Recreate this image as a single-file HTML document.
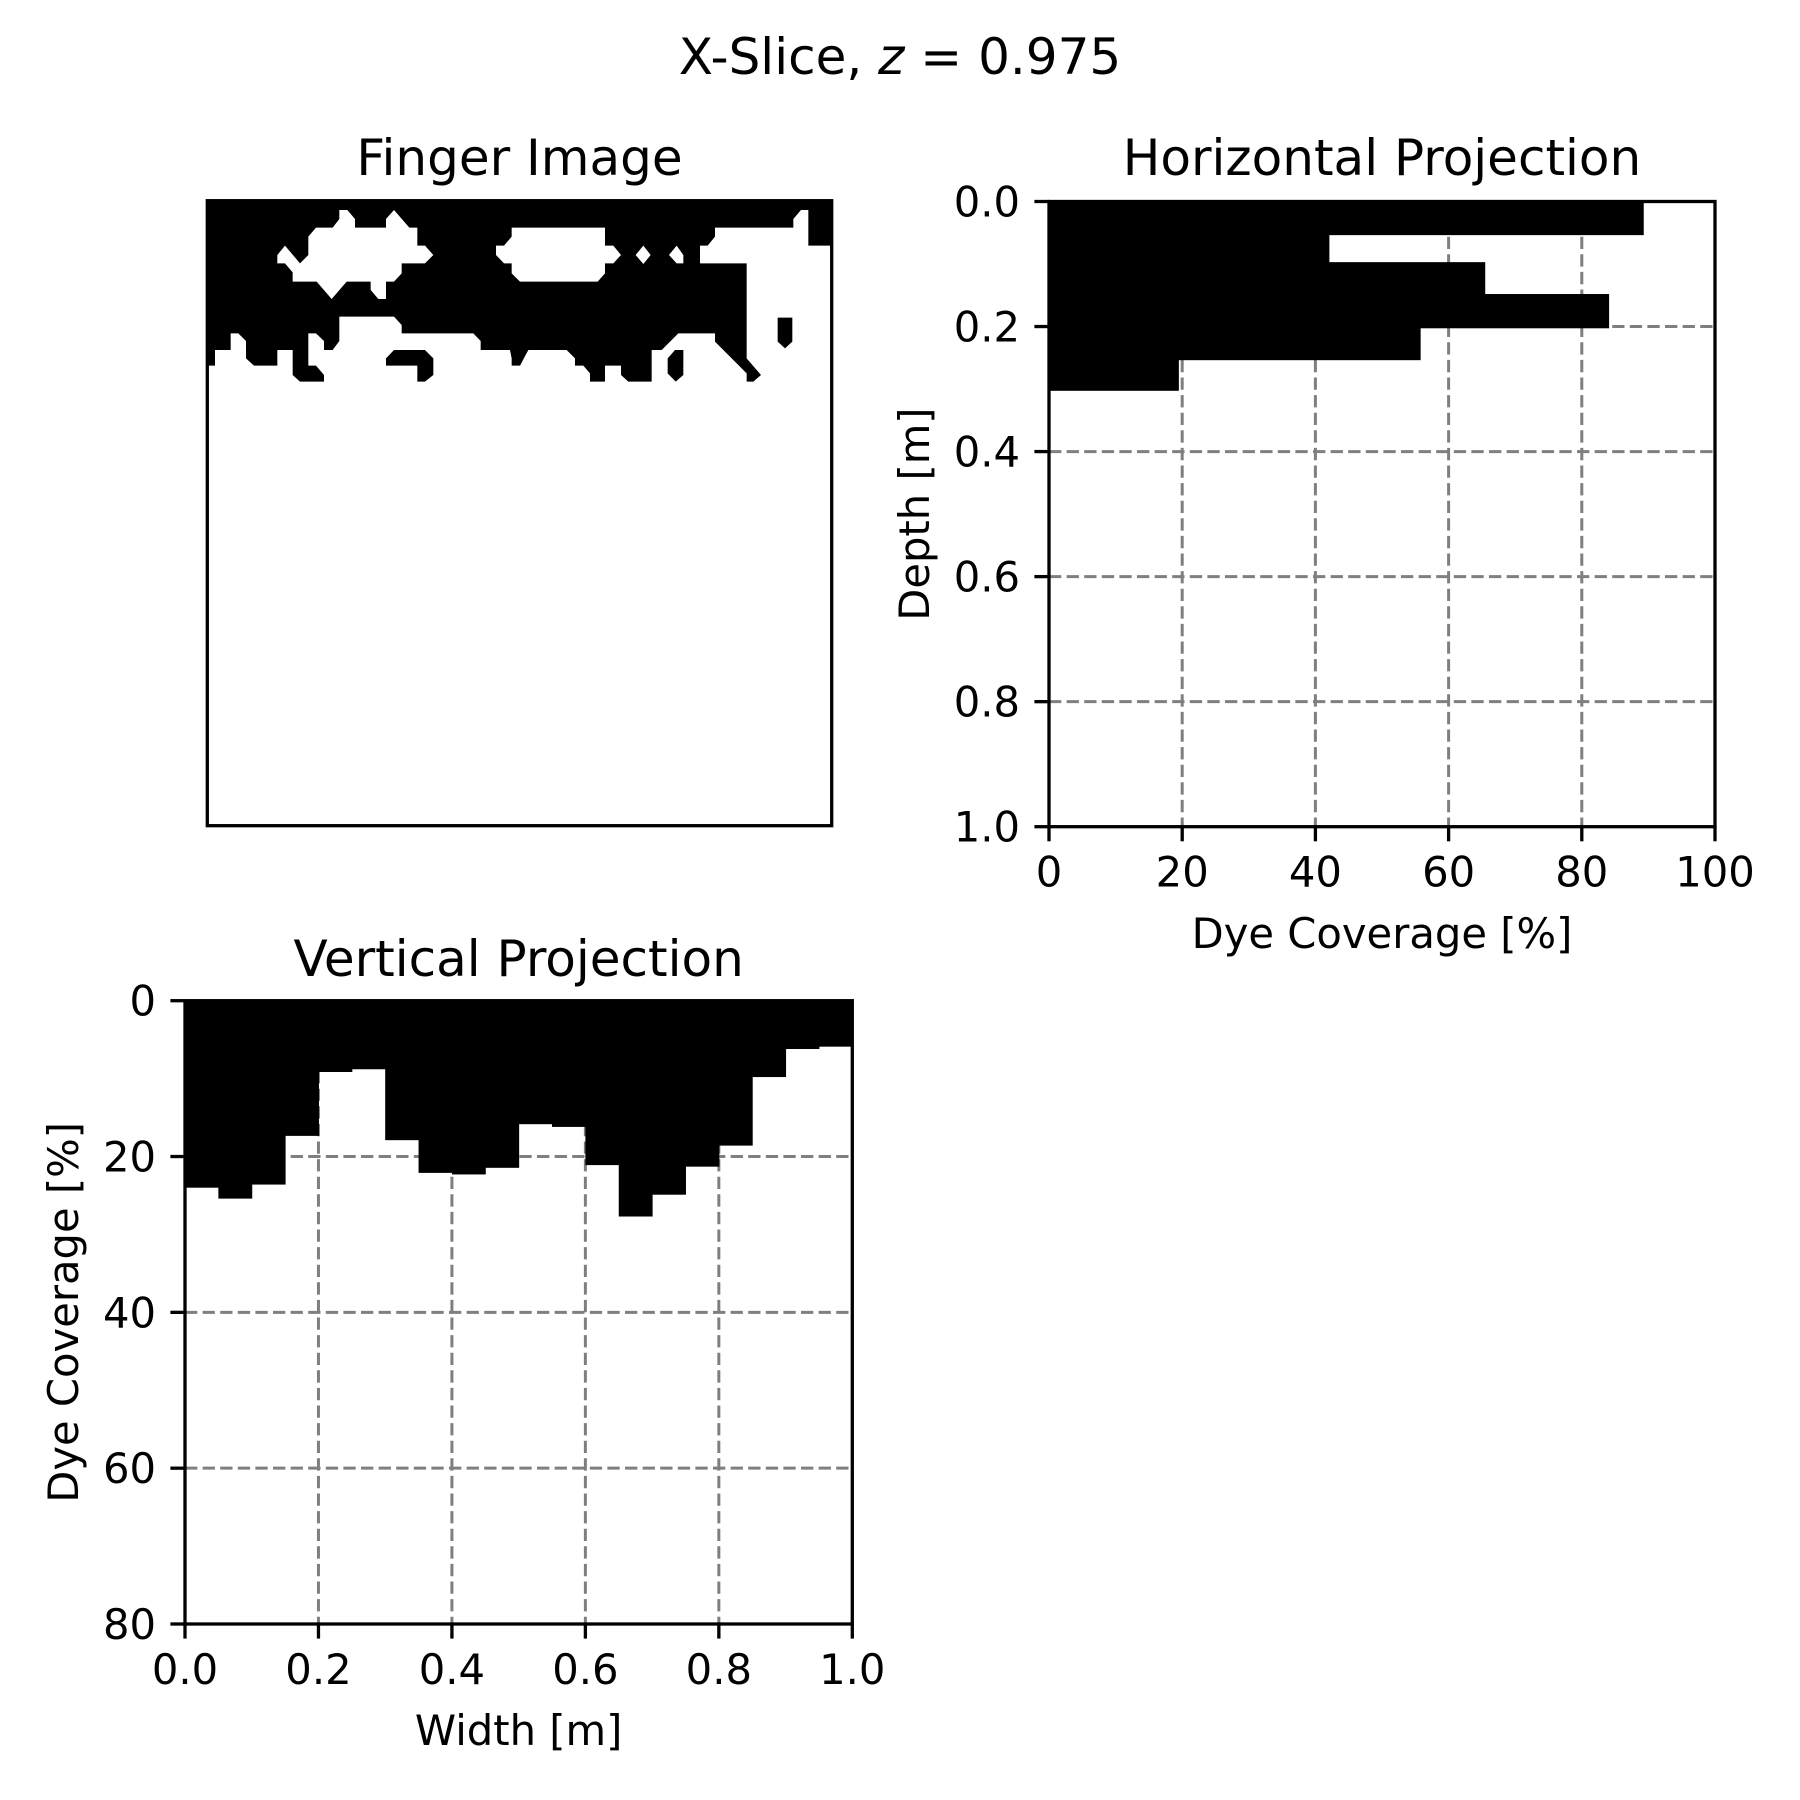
<!DOCTYPE html>
<html><head><meta charset="utf-8"><style>
html,body{margin:0;padding:0;background:#fff;}
svg{display:block;font-family:"DejaVu Sans","Liberation Sans",sans-serif;}
</style></head><body>
<svg id="fig" width="1800" height="1800" viewBox="0 0 1800 1800" xmlns="http://www.w3.org/2000/svg">
<rect width="1800" height="1800" fill="#fff"/>
<text x="900" y="74" font-size="50" text-anchor="middle">X-Slice, <tspan font-style="italic">z</tspan> = 0.975</text>

<g>
<text x="519.5" y="175" font-size="50" text-anchor="middle">Finger Image</text>
<svg x="207.3" y="200.7" width="624.4" height="625" viewBox="207.3 200.7 624.4 625" overflow="hidden">
<g transform="translate(200,195) scale(0.33333)">
<polygon fill="#000" points="0,0 1950,0 1950,152 1825,152 1825,45 1803,45 1780,72 1780,98 1545,98 1545,125 1523,152 1500,152 1500,205 1640,205 1640,490 1683,540 1660,560 1640,560 1640,535 1545,440 1545,415 1435,415 1385,465 1355,465 1355,560 1285,560 1263,540 1263,512 1215,512 1215,560 1170,560 1170,535 1150,512 1125,512 1125,490 1100,465 985,465 960,512 935,512 935,490 930,465 842,465 842,438 820,415 605,415 605,390 582,365 418,365 418,438 398,465 372,465 372,438 348,415 325,415 325,512 348,512 372,540 372,560 300,560 278,540 278,465 232,465 232,512 162,512 138,490 138,438 115,415 92,415 92,465 45,465 45,512 0,512"/>
<polygon fill="#fff" points="232,180 255,152 300,205 325,180 325,125 348,98 398,98 418,72 418,45 442,45 465,72 465,98 558,98 558,72 582,45 628,98 652,98 652,152 675,152 700,180 675,205 605,205 605,235 582,260 558,260 558,312 535,312 512,285 512,260 440,260 395,312 350,260 278,260 278,232 255,205 232,205"/>
<polygon fill="#fff" points="888,152 912,152 935,125 935,98 1215,98 1215,152 1240,152 1263,180 1240,205 1215,205 1215,235 1193,260 960,260 935,235 935,205 912,205 888,180"/>
<polygon fill="#fff" points="1307,180 1330,152 1352,180 1330,207"/>
<polygon fill="#fff" points="1407,180 1430,152 1450,180 1450,205 1430,205"/>
<polygon fill="#000" points="558,490 582,465 675,465 700,490 700,540 675,560 652,560 652,512 558,512"/>
<polygon fill="#000" points="1403,490 1425,465 1450,465 1450,540 1427,560 1403,535"/>
<polygon fill="#000" points="1733,368 1777,368 1777,440 1755,460 1733,440"/>
</g>
</svg>
<rect x="207.3" y="200.7" width="624.4" height="625" fill="none" stroke="#000" stroke-width="3.3"/>
</g>

<g id="hproj"></g>
<g id="vproj"></g>
</svg>
<script>
// Horizontal projection data
const hDepthEdges = [0, 0.053, 0.097, 0.148, 0.202, 0.253, 0.302];
const hCoverage = [89.3, 42.1, 65.5, 84.1, 55.8, 19.5];
const hXTicks = [0, 20, 40, 60, 80, 100];
const hXTickLabels = ["0", "20", "40", "60", "80", "100"];
const hYTicks = [0, 0.2, 0.4, 0.6, 0.8, 1.0];
const hYTickLabels = ["0.0", "0.2", "0.4", "0.6", "0.8", "1.0"];

// Vertical projection data
const vBinEdges = [0,0.05,0.1,0.15,0.2,0.25,0.3,0.35,0.4,0.45,0.5,0.55,0.6,0.65,0.7,0.75,0.8,0.85,0.9,0.95,1.0];
const vCoverage = [24.0,25.4,23.6,17.35,9.15,8.8,17.9,22.1,22.3,21.45,15.85,16.2,21.1,27.7,24.9,21.3,18.6,9.8,6.2,5.9];
const vXTicks = [0, 0.2, 0.4, 0.6, 0.8, 1.0];
const vXTickLabels = ["0.0", "0.2", "0.4", "0.6", "0.8", "1.0"];
const vYTicks = [0, 20, 40, 60, 80];
const vYTickLabels = ["0", "20", "40", "60", "80"];

const NS = "http://www.w3.org/2000/svg";
function mk(parent, tag, attrs, text) {
  const e = document.createElementNS(NS, tag);
  for (const k in attrs) e.setAttribute(k, attrs[k]);
  if (text !== undefined) e.textContent = text;
  parent.appendChild(e);
  return e;
}

// ---------- Horizontal projection ----------
(function(){
  const g = document.getElementById('hproj');
  const L = 1049, R = 1715, T = 201.5, B = 826.7;
  const xs = v => L + (v / 100) * (R - L);
  const ys = d => T + d * (B - T);
  let e = mk(g, 'text', {x: (L+R)/2, y: 175, 'font-size': 50, 'text-anchor': 'middle'}, 'Horizontal Projection');
  
  
  // grid
  hXTicks.forEach(t => { if (t > 0 && t < 100) {
    const l = mk(g, 'line', {x1: xs(t), x2: xs(t), y1: T, y2: B, stroke: '#7f7f7f', 'stroke-width': 3, 'stroke-dasharray': '12.3 5.3'});
    
    
  }});
  hYTicks.forEach(t => { if (t > 0 && t < 1) {
    const l = mk(g, 'line', {x1: L, x2: R, y1: ys(t), y2: ys(t), stroke: '#7f7f7f', 'stroke-width': 3, 'stroke-dasharray': '12.3 5.3'});
    
    
  }});
  // bars
  hCoverage.forEach((v, i) => {
    const r = mk(g, 'rect', {x: xs(0), y: ys(hDepthEdges[i]), width: xs(v) - xs(0), height: ys(hDepthEdges[i+1]) - ys(hDepthEdges[i]) + 0.5, fill: '#000'});
    
    
  });
  e = mk(g, 'rect', {x: L, y: T, width: R-L, height: B-T, fill: 'none', stroke: '#000', 'stroke-width': 3.3});
  
  
  hXTicks.forEach((t, i) => {
    const l = mk(g, 'line', {x1: xs(t), x2: xs(t), y1: B, y2: B + 14.6, stroke: '#000', 'stroke-width': 3.3});
    
    
    const tx = mk(g, 'text', {x: xs(t), y: B + 60, 'font-size': 41.7, 'text-anchor': 'middle'}, hXTickLabels[i]);
    
    
  });
  hYTicks.forEach((t, i) => {
    const l = mk(g, 'line', {x1: L - 14.6, x2: L, y1: ys(t), y2: ys(t), stroke: '#000', 'stroke-width': 3.3});
    
    
    const tx = mk(g, 'text', {x: L - 29, y: ys(t) + 15, 'font-size': 41.7, 'text-anchor': 'end'}, hYTickLabels[i]);
    
    
  });
  e = mk(g, 'text', {x: (L+R)/2, y: 948, 'font-size': 41.7, 'text-anchor': 'middle'}, 'Dye Coverage [%]');
  
  
  e = mk(g, 'text', {x: 0, y: 0, 'font-size': 41.7, 'text-anchor': 'middle', transform: `translate(929,${(T+B)/2}) rotate(-90)`}, 'Depth [m]');
  
  
})();

// ---------- Vertical projection ----------
(function(){
  const g = document.getElementById('vproj');
  const L = 185, R = 852.3, T = 1000.7, B = 1624;
  const xs = v => L + v * (R - L);
  const ys = c => T + (c / 80) * (B - T);
  let e = mk(g, 'text', {x: (L+R)/2, y: 976, 'font-size': 50, 'text-anchor': 'middle'}, 'Vertical Projection');
  
  
  vXTicks.forEach(t => { if (t > 0 && t < 1) {
    const l = mk(g, 'line', {x1: xs(t), x2: xs(t), y1: T, y2: B, stroke: '#7f7f7f', 'stroke-width': 3, 'stroke-dasharray': '12.3 5.3'});
    
    
  }});
  vYTicks.forEach(t => { if (t > 0 && t < 80) {
    const l = mk(g, 'line', {x1: L, x2: R, y1: ys(t), y2: ys(t), stroke: '#7f7f7f', 'stroke-width': 3, 'stroke-dasharray': '12.3 5.3'});
    
    
  }});
  vCoverage.forEach((v, i) => {
    const r = mk(g, 'rect', {x: xs(vBinEdges[i]), y: ys(0), width: xs(vBinEdges[i+1]) - xs(vBinEdges[i]) + 0.5, height: ys(v) - ys(0), fill: '#000'});
    
    
  });
  e = mk(g, 'rect', {x: L, y: T, width: R-L, height: B-T, fill: 'none', stroke: '#000', 'stroke-width': 3.3});
  
  
  vXTicks.forEach((t, i) => {
    const l = mk(g, 'line', {x1: xs(t), x2: xs(t), y1: B, y2: B + 14.6, stroke: '#000', 'stroke-width': 3.3});
    
    
    const tx = mk(g, 'text', {x: xs(t), y: B + 60, 'font-size': 41.7, 'text-anchor': 'middle'}, vXTickLabels[i]);
    
    
  });
  vYTicks.forEach((t, i) => {
    const l = mk(g, 'line', {x1: L - 14.6, x2: L, y1: ys(t), y2: ys(t), stroke: '#000', 'stroke-width': 3.3});
    
    
    const tx = mk(g, 'text', {x: L - 29, y: ys(t) + 15, 'font-size': 41.7, 'text-anchor': 'end'}, vYTickLabels[i]);
    
    
  });
  e = mk(g, 'text', {x: (L+R)/2, y: 1745, 'font-size': 41.7, 'text-anchor': 'middle'}, 'Width [m]');
  
  
  e = mk(g, 'text', {x: 0, y: 0, 'font-size': 41.7, 'text-anchor': 'middle', transform: `translate(78,${(T+B)/2}) rotate(-90)`}, 'Dye Coverage [%]');
  
  
})();
</script>
</body></html>
